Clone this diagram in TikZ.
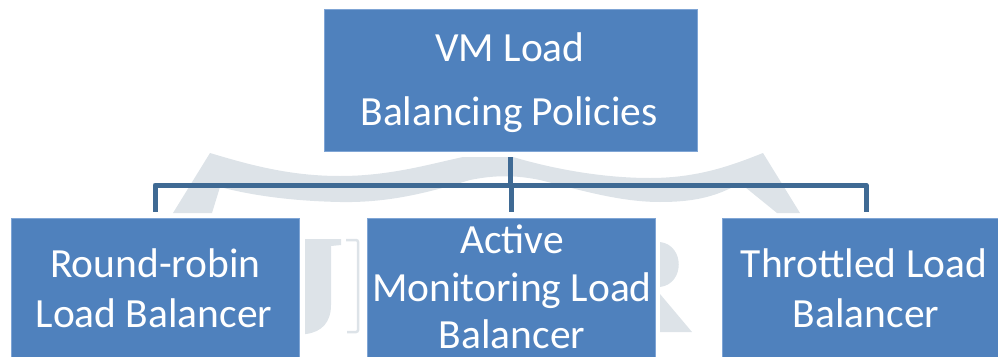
\documentclass[tikz,border=0pt]{standalone}
\usepackage{fontspec}
\setmainfont{Carlito}
\definecolor{boxblue}{HTML}{4F81BD}
\definecolor{boxedge}{HTML}{7FA5D5}
\definecolor{linkblue}{HTML}{3F6A94}
\definecolor{wmgray}{HTML}{DDE3E8}
\begin{document}
\begin{tikzpicture}[x=1pt,y=-1pt,
  box/.style={draw=boxedge, line width=0.8pt, fill=boxblue, inner sep=0pt, rectangle},
  lbl/.style={text=white, font=\fontsize{41.5}{45}\selectfont, inner sep=0pt, anchor=base},
  conn/.style={draw=linkblue, line width=5pt, line join=round},
  wm/.style={fill=wmgray, draw=none}]
\useasboundingbox (0,0) rectangle (998,356);
\clip (0,0) rectangle (998,356);
% watermark
\path[wm] (173,213) -- (210,153)
  .. controls (250,165) and (290,176) .. (340,176)
  .. controls (390,176) and (430,164) .. (463,157)
  -- (513,157)
  .. controls (550,168) and (600,178) .. (650,178)
  .. controls (700,178) and (735,164) .. (763,153)
  -- (800,213) -- (777,213) -- (740,183)
  .. controls (715,198) and (690,202) .. (660,202)
  .. controls (620,202) and (580,190) .. (540,180)
  .. controls (515,175) and (495,175) .. (470,180)
  .. controls (430,192) and (390,203) .. (340,202)
  .. controls (290,201) and (250,195) .. (220,187)
  -- (212,213) -- cycle;
\path[wm] (305,239) -- (341,239) -- (341,245) -- (331,246) -- (331,305)
  .. controls (331,322) and (322,332) .. (306,334) -- (305,334) -- (305,246) -- cycle;
\draw[draw=wmgray, line width=2.5pt, rounded corners=2pt] (346,240) -- (358,240) -- (358,332) -- (347,332);
\path[wm] (660,242) .. controls (685,245) and (685,284) .. (660,287) -- cycle;
\path[wm] (660,294) -- (692,332) -- (660,332) -- cycle;
% boxes
\node[box, minimum width=373pt, minimum height=142pt] (top) at (510.5,80) {};
\node[box, minimum width=288pt, minimum height=152pt] (rr) at (155,294) {};
\node[box, minimum width=288pt, minimum height=152pt] (am) at (511,294) {};
\node[box, minimum width=288pt, minimum height=152pt] (th) at (866,294) {};
% connectors
\coordinate (bus) at (0,185);
\draw[conn] ([yshift=-6pt]top.south) -- (top.south |- bus);
\draw[conn] ([yshift=6pt]rr.north) -- (rr.north |- bus) -- (th.north |- bus) -- ([yshift=6pt]th.north);
\draw[conn] ([yshift=6pt]am.north) -- (am.north |- bus);
% labels
\node[lbl] (top1) at (510,61) {VM Load};
\node[lbl] (top2) at (509,125) {Balancing Policies};
\node[lbl] (rr1) at (155.5,277) {Round-robin};
\node[lbl] (rr2) at (154,327) {Load Balancer};
\node[lbl] (am1) at (512,253) {Active};
\node[lbl] (am2) at (512,301) {Monitoring Load};
\node[lbl] (am3) at (512,348) {Balancer};
\node[lbl] (th1) at (864,277) {Throttled Load};
\node[lbl] (th2) at (866,327) {Balancer};
\end{tikzpicture}
\end{document}
